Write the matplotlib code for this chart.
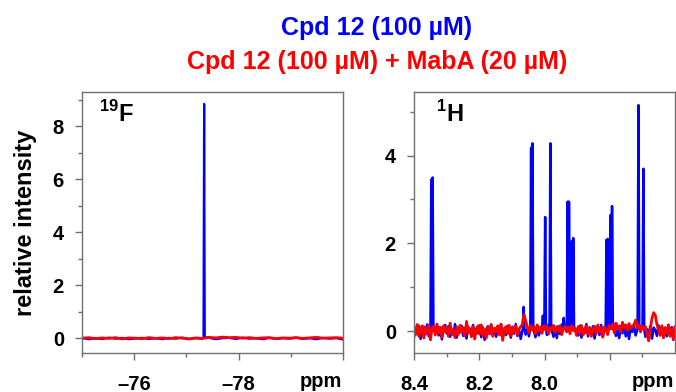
import numpy as np
import matplotlib
matplotlib.use('Agg')
import matplotlib.pyplot as plt
from matplotlib.ticker import MultipleLocator, FixedLocator

plt.rcParams['font.family'] = ['Liberation Sans', 'DejaVu Sans']
plt.rcParams['font.weight'] = 'bold'
plt.rcParams['mathtext.fontset'] = 'custom'
plt.rcParams['mathtext.bf'] = 'Liberation Sans:bold'
plt.rcParams['mathtext.rm'] = 'Liberation Sans:bold'

# ---- data ----
title_free = 'Cpd 12 (100 µM)'
title_bound = 'Cpd 12 (100 µM) + MabA (20 µM)'

# 19F panel
f_range = (-75.0, -80.0)
f_peak_ppm = [-77.34]
f_peak_free = [8.85]
f_base_free = [0.02, -0.03, 0.01, -0.02, 0.03, -0.01, 0.02, -0.03, 0.00, 0.02,
               -0.02, 0.01, -0.03, 0.02, -0.01, 0.03, -0.02, 0.01, -0.01, 0.02,
               -0.03, 0.01, 0.02, -0.02, 0.03, -0.01, 0.01, -0.03, 0.02, -0.02,
               0.01, -0.01, 0.03, -0.02, 0.01, -0.03, 0.02, -0.01, 0.01, -0.04]
f_base_bound = [0.01, 0.03, -0.01, 0.02, 0.00, 0.03, -0.02, 0.02, 0.01, -0.01,
                0.03, 0.00, 0.02, -0.01, 0.03, 0.01, -0.02, 0.02, 0.00, 0.04,
                0.02, 0.05, 0.03, 0.04, 0.01, 0.03, 0.00, 0.02, 0.03, -0.01,
                0.02, 0.01, 0.03, 0.00, 0.02, 0.04, 0.01, 0.02, 0.03, 0.01]

# 1H panel
h_range = (8.4, 7.6)
h_peak_ppm = [8.347, 8.343, 8.064, 8.041, 8.037, 8.005, 7.998, 7.982, 7.941,
              7.929, 7.925, 7.916, 7.912, 7.810, 7.806, 7.797, 7.793, 7.712, 7.697]
h_peak_free = [3.45, 3.50, 0.55, 4.18, 4.28, 0.35, 2.60, 4.28, 0.30,
               2.95, 2.95, 2.05, 2.12, 2.08, 2.10, 2.65, 2.85, 5.15, 3.70]
h_base_free = [-0.14, 0.06, -0.02, 0.12, -0.18, 0.04, 0.10, -0.08, 0.15, -0.12,
               0.02, -0.16, 0.09, -0.04, 0.13, -0.10, 0.05, -0.19, 0.08, 0.14,
               -0.06, 0.11, -0.13, 0.03, -0.09, 0.16, -0.15, 0.07, -0.03, 0.12,
               -0.11, 0.05, -0.17, 0.10, 0.01, -0.08, 0.14, -0.12, 0.06, -0.05,
               0.13, -0.14, 0.08, -0.20, 0.04, 0.11, -0.07, 0.15, -0.10, 0.02,
               -0.13, 0.09, -0.04, 0.14, -0.16, 0.06, -0.09, 0.12, -0.02, -0.15,
               0.10, -0.06, 0.16, -0.11, 0.03, -0.18, 0.08, 0.13, -0.08, 0.05,
               -0.12, 0.11, -0.03, 0.15, -0.14, 0.07, -0.10, 0.02, 0.12, -0.17,
               0.06, -0.09, 0.14, -0.05, 0.10, -0.13, 0.04, -0.16, 0.11, -0.07,
               0.15, -0.11, 0.03, -0.14, 0.09, -0.06, 0.13, -0.19, 0.07, 0.01,
               -0.10, 0.12, -0.15, 0.05, -0.04, 0.16, -0.12, 0.08, -0.08, 0.11,
               -0.17, 0.04, 0.10, -0.09, 0.14, -0.13, 0.06, -0.03, 0.12, -0.15,
               0.08, -0.07, 0.15, -0.11, 0.02, -0.16, 0.10, -0.05, 0.13, -0.12,
               0.05, -0.18, 0.09, -0.02, 0.14, -0.10, 0.07, -0.14, 0.11, -0.06,
               0.16, -0.13, 0.04, -0.09, 0.12, -0.17, 0.08, 0.02, -0.11, 0.13,
               -0.05, 0.10, -0.15, 0.06, -0.12, 0.14, -0.08, 0.09, -0.20, 0.07]
h_base_bound = [0.10, -0.08, 0.15, -0.12, 0.04, 0.12, -0.16, 0.08, -0.04, 0.14,
                -0.20, 0.06, 0.11, -0.09, 0.16, -0.05, 0.09, -0.14, 0.12, -0.02,
                0.07, -0.12, 0.18, -0.06, 0.03, -0.15, 0.10, -0.08, 0.13, -0.03,
                0.08, -0.11, 0.22, -0.04, 0.06, -0.13, 0.11, -0.18, 0.05, 0.12,
                -0.07, 0.14, -0.10, 0.03, -0.16, 0.09, -0.05, 0.15, -0.12, 0.07,
                -0.02, 0.12, -0.09, 0.16, -0.21, 0.05, 0.10, -0.06, 0.13, -0.11,
                0.08, -0.03, 0.12, -0.08, 0.05, 0.10, 0.15, 0.38, 0.24, 0.10,
                -0.04, 0.13, 0.02, 0.10, -0.06, 0.14, 0.01, 0.09, -0.05, 0.12,
                0.03, 0.11, -0.07, 0.08, 0.04, 0.13, -0.03, 0.10, 0.00, 0.12,
                -0.08, 0.06, 0.11, -0.02, 0.09, -0.06, 0.12, 0.01, 0.07, -0.10,
                0.10, -0.04, 0.13, -0.09, 0.05, 0.12, -0.07, 0.08, -0.12, 0.04,
                0.11, -0.06, 0.14, -0.03, 0.08, -0.14, 0.10, 0.02, -0.08, 0.12,
                0.05, 0.16, -0.04, 0.18, 0.06, 0.12, -0.02, 0.20, 0.08, 0.14,
                0.02, 0.17, 0.06, 0.11, 0.14, 0.25, 0.09, 0.13, -0.02, 0.12,
                0.06, 0.10, -0.08, -0.22, 0.05, 0.30, 0.42, 0.36, 0.15, 0.02,
                -0.10, 0.12, -0.15, 0.08, -0.06, 0.14, -0.12, 0.05, -0.18, 0.10]

BLUE = '#0000ff'
RED = '#ff0000'
SPINE = '#707070'
FS = 14.5


def trace(rng, base, peaks=None, heights=None, hw=0.002):
    # baseline samples plus narrow spikes for each peak
    x = np.linspace(rng[0], rng[1], len(base))
    y = np.array(base, dtype=float)
    if peaks:
        pk = np.array(peaks)
        keep = np.min(np.abs(x[:, None] - pk[None, :]), axis=1) > 2 * hw
        x, y = x[keep], y[keep]
        xs = np.concatenate([x, pk, pk - hw, pk + hw])
        ys = np.concatenate([y, heights, np.full(len(pk), 0.05), np.full(len(pk), 0.05)])
        order = np.argsort(xs)
        x, y = xs[order], ys[order]
    return x, y


def style_axes(ax):
    for s in ax.spines.values():
        s.set_color(SPINE)
        s.set_linewidth(1.0)
    ax.tick_params(which='both', direction='out', colors=SPINE, labelcolor='black',
                   labelsize=FS)
    ax.tick_params(which='major', length=5, width=1.0)
    ax.tick_params(which='minor', length=3, width=1.0)
    ax.tick_params(axis='x', pad=10.5)
    ax.tick_params(axis='y', pad=8)
    ax.annotate('ppm', xy=(1, 0), xycoords='axes fraction', xytext=(-1, -27.6),
                textcoords='offset points', ha='right', va='bottom', fontsize=FS,
                fontweight='bold')


fig = plt.figure(figsize=(6.76, 3.92), dpi=100)
ax1 = fig.add_axes([82 / 676, 39 / 392, 261 / 676, 261 / 392])
ax2 = fig.add_axes([414 / 676, 39 / 392, 261 / 676, 261 / 392])

# 19F
x, y = trace(f_range, f_base_free, f_peak_ppm, f_peak_free, hw=0.012)
ax1.plot(x, y, color=BLUE, lw=1.6)
x, y = trace(f_range, f_base_bound)
ax1.plot(x, y, color=RED, lw=2.0)
ax1.set_xlim(*f_range)
ax1.set_ylim(-0.55, 9.3)
ax1.xaxis.set_major_locator(FixedLocator([-76, -78, -80]))
ax1.xaxis.set_minor_locator(FixedLocator([-75, -77, -79]))
ax1.set_xticklabels(['\u201376', '\u201378', ''])
ax1.yaxis.set_major_locator(MultipleLocator(2))
ax1.yaxis.set_minor_locator(MultipleLocator(1))
ax1.set_ylabel('relative intensity', fontsize=17, fontweight='bold', labelpad=11)
ax1.text(0.065, 0.915, r'$^{\mathbf{19}}$F', transform=ax1.transAxes, fontsize=17,
         fontweight='bold', ha='left', va='center')
style_axes(ax1)

# 1H
x, y = trace(h_range, h_base_free, h_peak_ppm, h_peak_free, hw=0.0026)
ax2.plot(x, y, color=BLUE, lw=1.8)
x, y = trace(h_range, h_base_bound)
ax2.plot(x, y, color=RED, lw=2.0)
ax2.set_xlim(*h_range)
ax2.set_ylim(-0.5, 5.45)
ax2.xaxis.set_major_locator(FixedLocator([8.4, 8.2, 8.0, 7.8]))
ax2.xaxis.set_minor_locator(FixedLocator([8.3, 8.1, 7.9, 7.7]))
ax2.set_xticklabels(['8.4', '8.2', '8.0', ''])
ax2.yaxis.set_major_locator(MultipleLocator(2))
ax2.yaxis.set_minor_locator(MultipleLocator(1))
ax2.text(0.085, 0.915, r'$^{\mathbf{1}}$H', transform=ax2.transAxes, fontsize=17,
         fontweight='bold', ha='left', va='center')
style_axes(ax2)

fig.text(377 / 676, 1 - 28 / 392, title_free, color=BLUE, fontsize=18,
         fontweight='bold', ha='center', va='center')
fig.text(377 / 676, 1 - 62 / 392, title_bound, color=RED, fontsize=18,
         fontweight='bold', ha='center', va='center')

fig.savefig('out.png', dpi=100)
